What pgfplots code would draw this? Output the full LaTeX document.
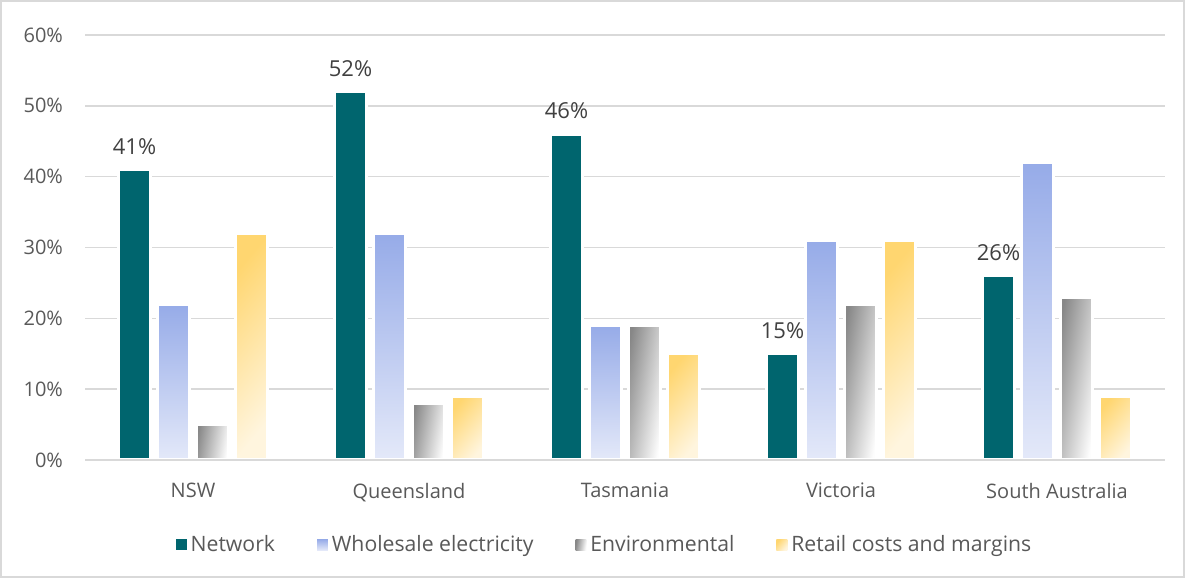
\documentclass[border=0pt]{standalone}
\usepackage{pgfplots}
\pgfplotsset{compat=1.18}
\usepackage{fontspec}
\setmainfont{Open Sans}
\definecolor{net}{RGB}{0,101,110}
\definecolor{wtop}{RGB}{150,171,232}
\definecolor{wbot}{RGB}{228,233,249}
\definecolor{etop}{RGB}{135,135,135}
\definecolor{ebot}{RGB}{253,253,253}
\definecolor{rtop}{RGB}{255,214,112}
\definecolor{rbot}{RGB}{255,245,222}
\definecolor{tickgray}{RGB}{89,89,89}
\definecolor{labgray}{RGB}{64,64,64}
\definecolor{gridgray}{RGB}{217,217,217}
\pgfplotsset{
  wstyle/.style={ybar, bar shift=-9.75pt, top color=wtop, bottom color=wbot, draw=white, line width=1.5pt},
  estyle/.style={ybar, bar shift=9.75pt, top color=etop, bottom color=ebot, shading angle=80, draw=white, line width=1.5pt},
  rstyle/.style={ybar, bar shift=29.25pt, top color=rtop, bottom color=rbot, shading angle=50, draw=white, line width=1.5pt},
}
\begin{document}
\begin{tikzpicture}[x=1pt,y=1pt]
\useasboundingbox (0,0) rectangle (592.5,289);
\draw[color=gridgray, line width=1pt] (0.5,0.5) rectangle (592,288.5);
\begin{axis}[
  at={(42.5pt,59pt)}, anchor=south west,
  scale only axis, width=540pt, height=212.5pt,
  ymin=0, ymax=60, xmin=-0.5, xmax=4.5,
  ytick={0,10,...,60},
  yticklabel={\pgfmathprintnumber{\tick}\%},
  xtick={0,1,2,3,4},
  xticklabels={NSW,Queensland,Tasmania,Victoria,South Australia},
  ymajorgrids, grid style={color=gridgray, line width=0.75pt},
  axis lines*=left,
  y axis line style={draw=none},
  x axis line style={-, color=gridgray, line width=0.75pt},
  major tick length=0pt,
  tick label style={font=\fontsize{10}{12}\selectfont, color=tickgray},
  y tick label style={xshift=-7.5pt},
  x tick label style={yshift=-8pt},
  /pgf/number format/assume math mode=true,
  bar width=16pt,
  legend columns=4,
  legend style={at={(0.482,-0.2)}, anchor=center, draw=none,
    font=\fontsize{10.6}{12}\selectfont, text=tickgray,
    /tikz/every even column/.append style={column sep=19pt}},
  legend image code/.code={\path[#1,draw=none] (0pt,-2.6pt) rectangle (5.4pt,2.8pt);},
]
\addplot[ybar, bar shift=-29.25pt, fill=net, draw=white, line width=1.5pt,
  nodes near coords={\pgfmathprintnumber{\pgfplotspointmeta}\%},
  every node near coord/.append style={font=\fontsize{11}{13}\selectfont, color=labgray, xshift=-29.25pt, yshift=3.5pt}]
  coordinates {(0,41) (1,52) (2,46) (3,15) (4,26)};
\addlegendentry{Network}
% Wholesale electricity (one plot per bar so each bar has its own gradient)
\addplot[wstyle] coordinates {(0,22)};
\addlegendentry{Wholesale electricity}
\addplot[wstyle, forget plot] coordinates {(1,32)};
\addplot[wstyle, forget plot] coordinates {(2,19)};
\addplot[wstyle, forget plot] coordinates {(3,31)};
\addplot[wstyle, forget plot] coordinates {(4,42)};
% Environmental
\addplot[estyle] coordinates {(0,5)};
\addlegendentry{Environmental}
\addplot[estyle, forget plot] coordinates {(1,8)};
\addplot[estyle, forget plot] coordinates {(2,19)};
\addplot[estyle, forget plot] coordinates {(3,22)};
\addplot[estyle, forget plot] coordinates {(4,23)};
% Retail costs and margins
\addplot[rstyle] coordinates {(0,32)};
\addlegendentry{Retail costs and margins}
\addplot[rstyle, forget plot] coordinates {(1,9)};
\addplot[rstyle, forget plot] coordinates {(2,15)};
\addplot[rstyle, forget plot] coordinates {(3,31)};
\addplot[rstyle, forget plot] coordinates {(4,9)};
\draw[color=gridgray, line width=0.75pt] (axis cs:-0.5,0) -- (axis cs:4.5,0);
\end{axis}
\end{tikzpicture}
\end{document}
